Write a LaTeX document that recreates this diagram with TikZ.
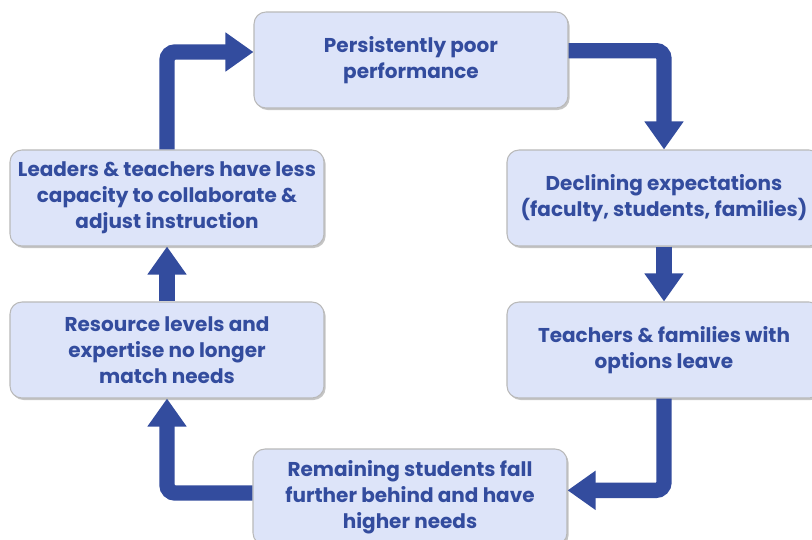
\documentclass[tikz,border=0pt]{standalone}
\usepackage{fontspec}
\setmainfont{Poppins}
\usepackage{xcolor}
\usepackage{tikz}
\usetikzlibrary{arrows.meta, positioning, shadows}
\definecolor{cycleblue}{RGB}{51,76,158}
\definecolor{boxfill}{RGB}{221,228,249}

\begin{document}
\begin{tikzpicture}[
    x=0.75pt, y=-0.75pt,
    % Node styles
    stage/.style={rectangle, rounded corners=9pt, minimum width=235.5pt, minimum height=72pt,
                  align=center, draw=gray!55, line width=0.8pt, fill=boxfill,
                  drop shadow={shadow xshift=1.2pt, shadow yshift=-1.5pt, opacity=0.45},
                  text=cycleblue, font=\bfseries\fontsize{15pt}{19.5pt}\selectfont},
    flow/.style={draw=cycleblue, line width=11.5pt, rounded corners=6pt,
                 -{Triangle[length=21pt, width=28pt]}}
]

% Frame
\clip (0,0) rectangle (812,539);
\fill[white] (0,0) rectangle (812,539);

% Stages of the cycle
\node (poor) [stage] at (411,60) {Persistently poor\\performance};
\node (expect) [stage] at (664,198) {Declining expectations\\(faculty, students, families)};
\node (leave) [stage] at (664,350) {Teachers \& families with\\options leave};
\node (behind) [stage] at (410,497) {Remaining students fall\\further behind and have\\higher needs};
\node (resource) [stage] at (167,350) {Resource levels and\\expertise no longer\\match needs};
\node (capacity) [stage] at (167,198) {Leaders \& teachers have less\\capacity to collaborate \&\\adjust instruction};

% Arrows
\draw [flow] ([yshift=7pt]poor.east) -| (expect.north);
\draw [flow] (expect) -- (leave);
\draw [flow] (leave.south) |- ([yshift=5pt]behind.west -| behind.east);
\draw [flow] ([yshift=3pt]behind.west) -| (resource.south);
\draw [flow] (resource) -- (capacity);
\draw [flow] (capacity.north) |- ([yshift=6pt]poor.west);

\end{tikzpicture}
\end{document}
